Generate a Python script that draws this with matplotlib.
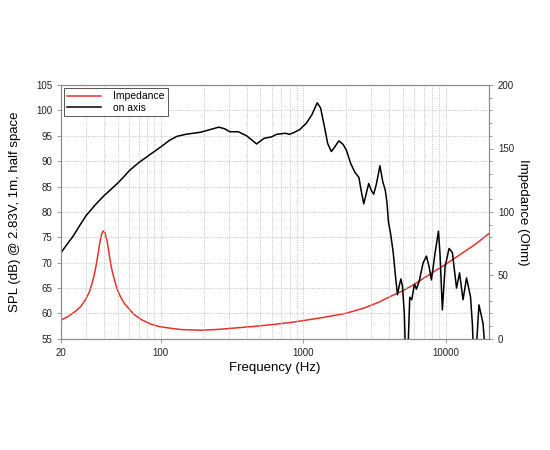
import numpy as np
import matplotlib.pyplot as plt
from matplotlib.ticker import FixedLocator, MultipleLocator, NullFormatter

plt.rcParams['font.family'] = ['Liberation Sans', 'DejaVu Sans']

# on-axis SPL (dB)
spl_freq = [20, 22, 24.4, 27, 30, 35, 40, 45, 50, 55, 60, 70, 85, 100, 115, 130,
            150, 190, 220, 255, 280, 305, 350, 400, 470, 530, 600, 650, 750, 800,
            850, 940, 1050, 1150, 1250, 1320, 1400, 1480, 1570, 1660, 1770, 1900,
            2000, 2150, 2300, 2450, 2550, 2650, 2780, 2870, 3000, 3110, 3250,
            3440, 3600, 3750, 3850, 3950, 4100, 4264, 4450, 4570, 4700, 4825,
            4955, 5100, 5230, 5400, 5570, 5750, 6010, 6200, 6480, 6900, 7290,
            7610, 7900, 8380, 8850, 9080, 9430, 9850, 10500, 11080, 11850, 12440,
            13160, 13930, 14850, 15300, 15710, 16300, 17020, 18160, 19150, 20000]
spl_db = [72.0, 73.6, 75.3, 77.3, 79.3, 81.5, 83.2, 84.5, 85.7, 86.9, 88.1,
          89.7, 91.4, 92.8, 94.1, 94.9, 95.3, 95.7, 96.2, 96.7, 96.4, 95.8,
          95.8, 95.0, 93.4, 94.5, 94.8, 95.3, 95.5, 95.3, 95.6, 96.2, 97.5,
          99.2, 101.5, 100.5, 97.0, 93.5, 91.9, 92.8, 94.0, 93.3, 92.2, 89.5,
          87.8, 86.8, 84.0, 81.6, 84.0, 85.6, 84.2, 83.5, 85.5, 89.1, 86.0,
          84.3, 82.0, 78.0, 75.5, 72.0, 66.6, 63.7, 65.5, 66.8, 65.3, 60.0,
          50.0, 52.0, 63.2, 62.7, 65.8, 64.8, 66.3, 69.9, 71.3, 69.2, 66.6,
          71.9, 76.2, 71.6, 60.7, 69.2, 72.8, 72.0, 65.0, 68.0, 62.7, 67.0,
          63.3, 58.0, 50.0, 53.0, 61.7, 58.1, 50.0, 50.0]

# impedance (Ohm)
imp_freq = [20, 22.5, 25.1, 27.5, 29.6, 31.5, 33.0, 34.5, 35.6, 36.6, 37.5, 38.5,
            39.5, 40.5, 41.9, 43.0, 44.1, 45.3, 46.7, 49, 52, 55.5, 59.3, 65,
            73.6, 85, 98, 120, 140, 190, 250, 320, 450, 600, 800, 1000, 1400,
            2000, 2700, 3400, 4000, 5000, 5800, 7500, 10000, 13600, 16500, 20000]
imp_ohm = [14.8, 17.8, 21.5, 25.5, 30.7, 36.5, 43.8, 52.5, 60.9, 69.0, 76.6, 82.5,
           85.0, 84.0, 78.0, 70.5, 62.2, 55.0, 49.1, 40.5, 33.5, 28.0, 24.2,
           19.2, 15.0, 11.6, 9.6, 8.2, 7.3, 6.8, 7.4, 8.4, 9.8, 11.2, 12.8, 14.4,
           17.0, 20.2, 24.5, 29.0, 33.0, 38.0, 42.0, 50.0, 59.0, 69.0, 75.5, 83.0]

grid_gray = '#c4c4c4'
spine_gray = '#8c8c8c'

fig = plt.figure(figsize=(5.5, 4.5), dpi=100)
ax = fig.add_axes([0.111, 0.247, 0.778, 0.564])
ax2 = ax.twinx()

ax.set_xscale('log')
ax.set_xlim(20, 20000)
ax.set_ylim(55, 105)
ax2.set_ylim(0, 200)

l2, = ax2.plot(imp_freq, imp_ohm, color='#e8312b', lw=1.1, label='Impedance')
l1, = ax.plot(spl_freq, spl_db, color='black', lw=1.1, label='on axis')
ax.set_zorder(ax2.get_zorder() + 1)
ax.patch.set_visible(False)

ax.xaxis.set_major_locator(FixedLocator([20, 100, 1000, 10000]))
ax.xaxis.set_major_formatter(plt.FuncFormatter(lambda v, p: '%d' % v))
ax.xaxis.set_minor_formatter(NullFormatter())
ax.yaxis.set_major_locator(MultipleLocator(5))
ax2.yaxis.set_major_locator(MultipleLocator(50))
ax2.yaxis.set_minor_locator(MultipleLocator(10))

# grid lines
vlines = [m * 10 ** e for e in range(1, 5) for m in range(1, 10)]
for v in vlines:
    if 20 < v < 20000:
        ax.axvline(v, color=grid_gray, lw=0.7, ls=(0, (1, 1.3)), zorder=0)
for h in range(60, 105, 5):
    ax.axhline(h, color=grid_gray, lw=0.7, ls=(0, (1, 1.3)), zorder=0)

for a in (ax, ax2):
    for s in a.spines.values():
        s.set_color(spine_gray)
        s.set_linewidth(0.8)
    a.tick_params(which='both', colors=spine_gray, labelcolor='#222222',
                  labelsize=7, length=3, width=0.6)
    a.tick_params(which='minor', length=2)
ax.tick_params(axis='x', which='minor', length=0)

ax.set_xlabel('Frequency (Hz)', fontsize=9.5, labelpad=3)
ax.set_ylabel('SPL (dB) @ 2.83V, 1m, half space', fontsize=9.5, labelpad=11)
ax2.set_ylabel('Impedance (Ohm)', fontsize=9.5, rotation=270, labelpad=11)

leg = ax.legend([l2, l1], ['Impedance', 'on axis'], loc='upper left',
                fontsize=7.5, fancybox=False, framealpha=1, borderaxespad=0.3,
                handlelength=3.2, handletextpad=1.2, borderpad=0.3,
                labelspacing=0.15)
leg.get_frame().set_edgecolor('#555555')
leg.get_frame().set_linewidth(0.7)

plt.savefig('out.png', dpi=100)
